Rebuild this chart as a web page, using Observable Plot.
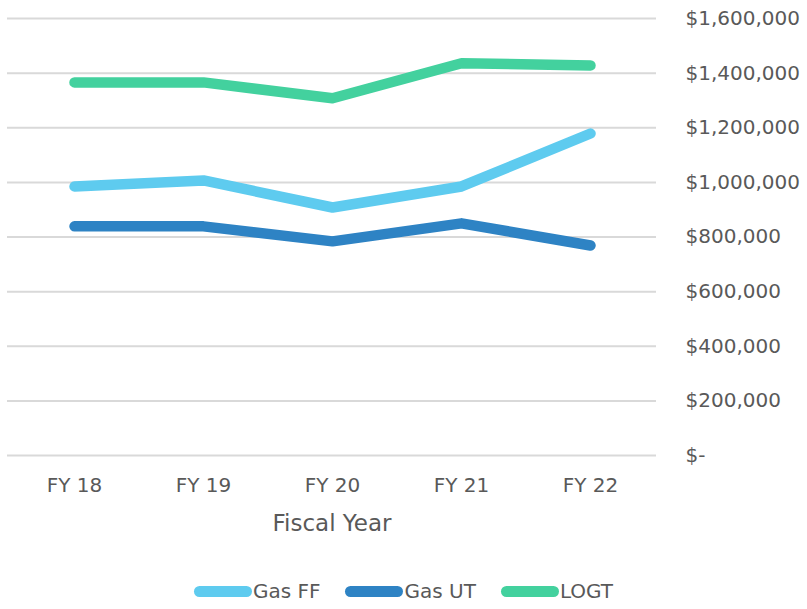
<!DOCTYPE html>
<html>
<head>
<meta charset="utf-8">
<script src="https://cdn.jsdelivr.net/npm/d3@7"></script>
<script src="https://cdn.jsdelivr.net/npm/@observablehq/plot@0.6"></script>
<style>
  html, body { margin: 0; padding: 0; background: #fff; }
  body { width: 807px; height: 609px; overflow: hidden; font-family: "DejaVu Sans", sans-serif; color: #595959; }
  #chart { height: 548px; }
  #legend { display: flex; justify-content: center; align-items: center; gap: 25px; margin-left: 0px; margin-top: 30px; font-size: 20px; line-height: 26px; }
  .item { display: flex; align-items: center; }
  .sw { width: 58px; height: 11px; border-radius: 5.5px; margin-right: 1px; }
</style>
</head>
<body>
<div id="chart"></div>
<div id="legend"></div>
<script>
const years = ["FY 18", "FY 19", "FY 20", "FY 21", "FY 22"];
const seriesNames = ["Gas FF", "Gas UT", "LOGT"];
const gasFF = [985000, 1007000, 908000, 985000, 1179000];
const gasUT = [839000, 839000, 784000, 850000, 769000];
const logt = [1366000, 1366000, 1308000, 1436000, 1428000];
const colors = ["#5ECBEF", "#2E83C4", "#43D19E"];
const yTicks = [0, 200000, 400000, 600000, 800000, 1000000, 1200000, 1400000, 1600000];

const valuesBySeries = [gasFF, gasUT, logt];
const rows = [];
seriesNames.forEach((s, i) => years.forEach((y, j) => rows.push({series: s, year: y, value: valuesBySeries[i][j]})));

const fmt = d => d === 0 ? "$-" : "$" + d3.format(",")(d);
const font = "'DejaVu Sans', sans-serif";

const chart = Plot.plot({
  width: 807,
  height: 548,
  marginLeft: 7,
  marginRight: 151,
  marginTop: 18,
  marginBottom: 93,
  style: {fontFamily: font, fontSize: "20px", color: "#595959", background: "#fff"},
  x: {type: "point", domain: years, padding: 0.5, label: null},
  y: {domain: [0, 1600000], label: null},
  color: {domain: seriesNames, range: colors},
  marks: [
    Plot.ruleY(yTicks, {stroke: "#d9d9d9", strokeWidth: 2}),
    Plot.axisY({anchor: "right", ticks: yTicks, tickFormat: fmt, tickSize: 0, tickPadding: 29, textAnchor: "start", label: null, fontSize: 20}),
    Plot.axisX({tickSize: 0, tickPadding: 22, label: null, fontSize: 20}),
    Plot.line(rows, {x: "year", y: "value", z: "series", stroke: "series", strokeWidth: 10.5, strokeLinecap: "round", strokeLinejoin: "round"}),
    Plot.text(["Fiscal Year"], {frameAnchor: "bottom", dy: 75, fontSize: 23, fill: "#595959"})
  ]
});
document.getElementById("chart").appendChild(chart);

const legend = document.getElementById("legend");
seriesNames.forEach((s, i) => {
  const item = document.createElement("div");
  item.className = "item";
  const sw = document.createElement("span");
  sw.className = "sw";
  sw.style.background = colors[i];
  const t = document.createElement("span");
  t.textContent = s;
  item.appendChild(sw);
  item.appendChild(t);
  legend.appendChild(item);
});
</script>
</body>
</html>
